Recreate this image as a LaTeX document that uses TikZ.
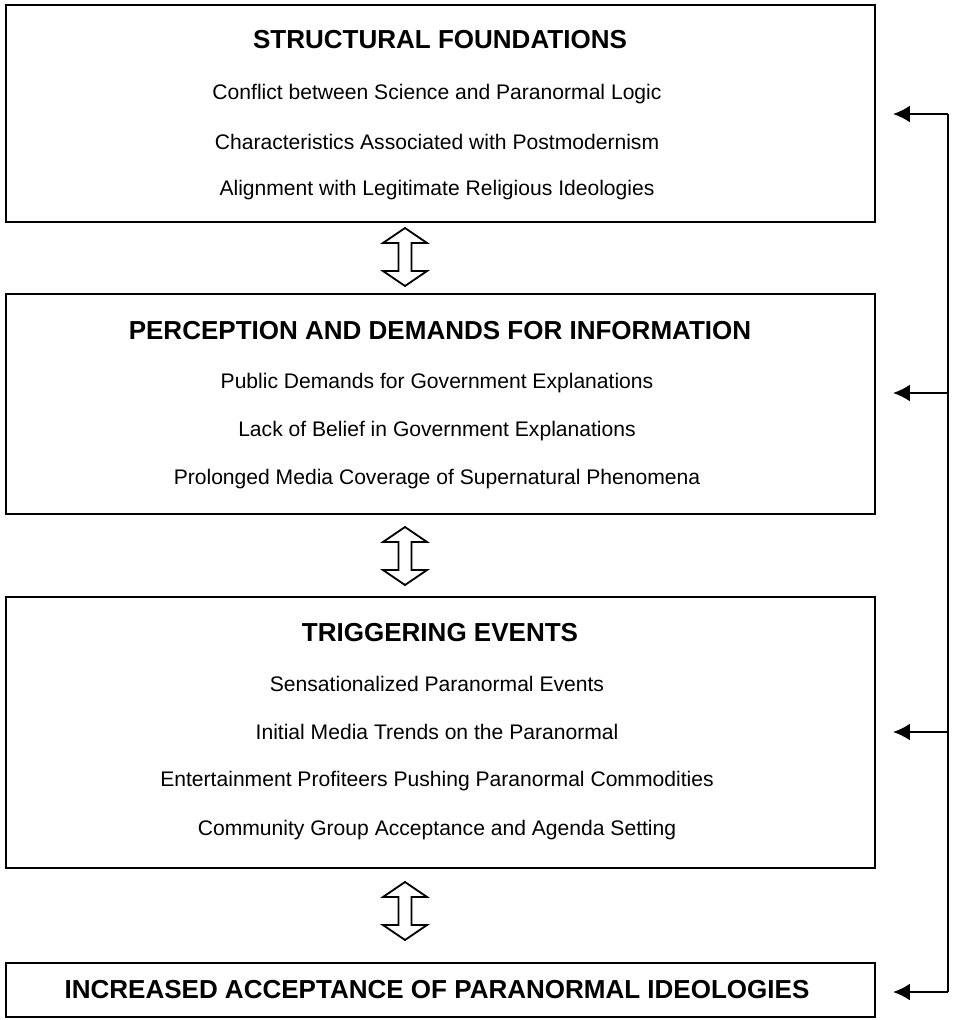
\documentclass[tikz,border=0pt]{standalone}
\usepackage{fontspec}
\setmainfont{Liberation Sans}
\usetikzlibrary{fit,arrows.meta}

\tikzset{
  box/.style={draw, line width=1.4pt, inner sep=0pt},
  head/.style={font=\bfseries\fontsize{18.5}{21}\selectfont},
  item/.style={font=\fontsize{15}{18}\selectfont},
  fback/.style={line width=1.4pt},
  fbarrow/.style={line width=1.4pt, -{Latex[length=12pt,width=12pt]}},
  dbl/.style={line width=1.3pt, line join=miter},
}

% hollow double arrow between two boxes: centre x, top y, bottom y
\newcommand{\dblarrow}[3]{%
  \draw[dbl] (#1,#2) -- (#1+22,#2+15) -- (#1+6.5,#2+15) -- (#1+6.5,#3-15)
    -- (#1+22,#3-15) -- (#1,#3) -- (#1-22,#3-15) -- (#1-6.5,#3-15)
    -- (#1-6.5,#2+15) -- (#1-22,#2+15) -- cycle;}

\begin{document}
\begin{tikzpicture}[x=0.025cm, y=-0.025cm]
\useasboundingbox (0,0) rectangle (956,1020);

% boxes
\node[box, fit={(6,5) (875,222)}] (found) {};
\node[box, fit={(6,294) (875,514)}] (percep) {};
\node[box, fit={(6,597) (875,868)}] (trigger) {};
\node[box, fit={(6,963) (875,1017)}] (accept) {};

% structural foundations
\node[head] (h1) at (440,40) {STRUCTURAL FOUNDATIONS};
\node[item] (f1) at (437,94) {Conflict between Science and Paranormal Logic};
\node[item] (f2) at (437,142) {Characteristics Associated with Postmodernism};
\node[item] (f3) at (437,190) {Alignment with Legitimate Religious Ideologies};

% perception
\node[head] (h2) at (440,331) {PERCEPTION AND DEMANDS FOR INFORMATION};
\node[item] (p1) at (437,383) {Public Demands for Government Explanations};
\node[item] (p2) at (437,431) {Lack of Belief in Government Explanations};
\node[item] (p3) at (437,479) {Prolonged Media Coverage of Supernatural Phenomena};

% triggering events
\node[head] (h3) at (440,633) {TRIGGERING EVENTS};
\node[item] (t1) at (437,684) {Sensationalized Paranormal Events};
\node[item] (t2) at (437,732) {Initial Media Trends on the Paranormal};
\node[item] (t3) at (437,781) {Entertainment Profiteers Pushing Paranormal Commodities};
\node[item] (t4) at (437,830) {Community Group Acceptance and Agenda Setting};

% outcome
\node[head] (h4) at (437,990) {INCREASED ACCEPTANCE OF PARANORMAL IDEOLOGIES};

% double arrows
\dblarrow{405}{228}{286}
\dblarrow{405}{527}{585}
\dblarrow{405}{882}{940}

% feedback line
\coordinate (r1) at (948,114);
\coordinate (r2) at (948,393);
\coordinate (r3) at (948,732);
\coordinate (r4) at (948,992);
\coordinate (e1) at (893,114);
\coordinate (e2) at (893,393);
\coordinate (e3) at (893,732);
\coordinate (e4) at (893,992);

\draw[fback] (r1) -- (r4);
\draw[fbarrow] (r1) -- (e1);
\draw[fbarrow] (r2) -- (e2);
\draw[fbarrow] (r3) -- (e3);
\draw[fbarrow] (r4) -- (e4);
\end{tikzpicture}
\end{document}
